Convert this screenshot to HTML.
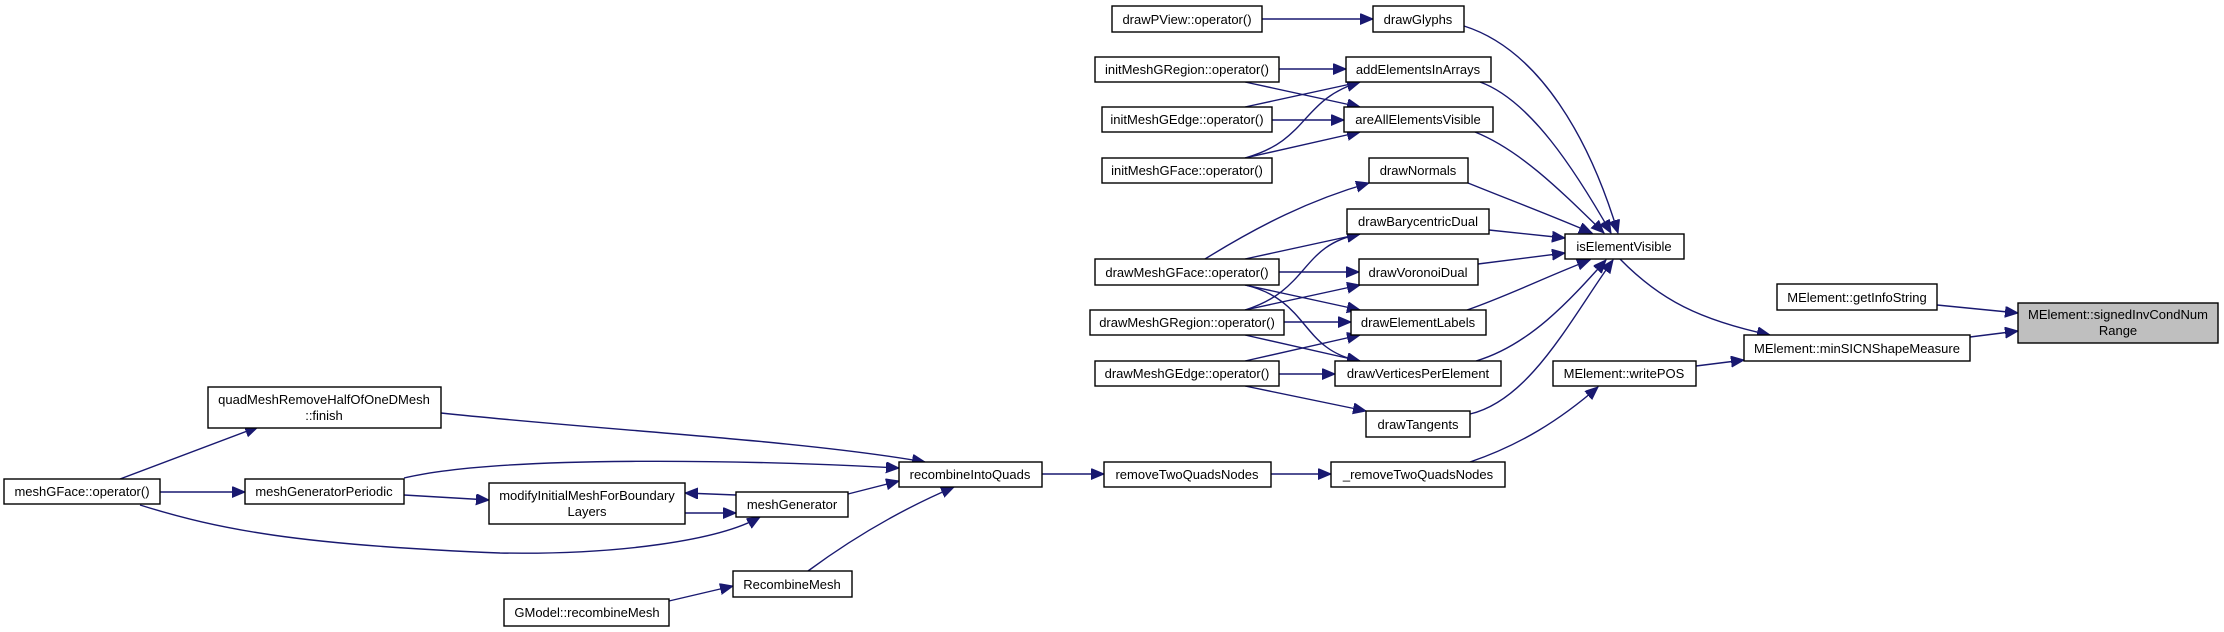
<!DOCTYPE html>
<html><head><meta charset="utf-8"><style>
html,body{margin:0;padding:0;background:#fff;}
svg{display:block;}
text{font-family:"Liberation Sans",Arial,sans-serif;font-size:13px;fill:#000;text-anchor:middle;}
.n{fill:#fff;stroke:#000;stroke-width:1.4;}
.e{fill:none;stroke:#191970;stroke-width:1.4;}
</style></head><body>
<svg width="2224" height="632" viewBox="0 0 2224 632" xmlns="http://www.w3.org/2000/svg">
<defs>
<marker id="a" markerUnits="userSpaceOnUse" markerWidth="14" markerHeight="12" refX="13" refY="5.5" orient="auto">
<polygon points="0,0 13,5.5 0,11" fill="#191970" stroke="#191970"/>
</marker>
</defs>
<g class="e" marker-end="url(#a)">
<path d="M1262,19 L1373,19"/>
<path d="M1464,26 C1540,50 1590,140 1618,233"/>
<path d="M1480,82 C1530,100 1575,170 1611,233"/>
<path d="M1475,132 C1520,150 1560,190 1604,233"/>
<path d="M1468,183 C1510,200 1550,215 1592,233"/>
<path d="M1489,230 L1565,238"/>
<path d="M1478,264 L1565,253"/>
<path d="M1467,310 C1510,295 1550,275 1590,260"/>
<path d="M1476,361 C1530,345 1570,300 1606,260"/>
<path d="M1470,414 C1530,400 1570,320 1613,260"/>
<path d="M1620,259 C1660,300 1700,320 1770,335"/>
<path d="M1937,305 L2018,313"/>
<path d="M1970,337 L2018,331"/>
<path d="M1696,366 L1744,360"/>
<path d="M1470,462 C1520,445 1560,420 1598,387"/>
<path d="M1271,474 L1331,474"/>
<path d="M1042,474 L1104,474"/>
<path d="M441,413 C600,430 800,440 925,462"/>
<path d="M404,478 C500,455 750,460 899,468"/>
<path d="M848,494 L899,481"/>
<path d="M808,571 C850,540 900,510 954,487"/>
<path d="M669,601 L733,586"/>
<path d="M120,479 L258,427"/>
<path d="M160,492 L245,492"/>
<path d="M140,505 C220,530 300,545 500,553 C620,555 720,540 760,517"/>
<path d="M404,495 L489,500"/>
<path d="M736,495 L685,493"/>
<path d="M685,513 L736,513"/>
<path d="M1279,69 L1346,69"/>
<path d="M1245,82 L1360,107"/>
<path d="M1245,107 L1360,82"/>
<path d="M1272,120 L1344,120"/>
<path d="M1245,158 C1310,140 1300,100 1360,82"/>
<path d="M1245,158 L1360,132"/>
<path d="M1205,259 C1260,225 1310,200 1369,183"/>
<path d="M1245,259 L1360,234"/>
<path d="M1279,272 L1359,272"/>
<path d="M1245,285 L1360,310"/>
<path d="M1245,285 C1310,300 1300,350 1360,361"/>
<path d="M1245,310 C1310,290 1300,245 1360,234"/>
<path d="M1245,310 L1360,285"/>
<path d="M1284,322 L1351,322"/>
<path d="M1245,335 L1360,361"/>
<path d="M1245,361 L1360,335"/>
<path d="M1279,374 L1335,374"/>
<path d="M1245,386 L1366,411"/>
</g>
<g>
<rect class="n" x="1112" y="6" width="150" height="26"/><text x="1187" y="24">drawPView::operator()</text>
<rect class="n" x="1373" y="6" width="91" height="26"/><text x="1418" y="24">drawGlyphs</text>
<rect class="n" x="1095" y="57" width="184" height="25"/><text x="1187" y="74">initMeshGRegion::operator()</text>
<rect class="n" x="1346" y="57" width="145" height="25"/><text x="1418" y="74">addElementsInArrays</text>
<rect class="n" x="1102" y="107" width="170" height="25"/><text x="1187" y="124">initMeshGEdge::operator()</text>
<rect class="n" x="1344" y="107" width="149" height="25"/><text x="1418" y="124">areAllElementsVisible</text>
<rect class="n" x="1102" y="158" width="170" height="25"/><text x="1187" y="175">initMeshGFace::operator()</text>
<rect class="n" x="1369" y="158" width="99" height="25"/><text x="1418" y="175">drawNormals</text>
<rect class="n" x="1347" y="209" width="142" height="25"/><text x="1418" y="226">drawBarycentricDual</text>
<rect class="n" x="1565" y="234" width="119" height="25"/><text x="1624" y="251">isElementVisible</text>
<rect class="n" x="1095" y="259" width="184" height="26"/><text x="1187" y="277">drawMeshGFace::operator()</text>
<rect class="n" x="1359" y="259" width="119" height="26"/><text x="1418" y="277">drawVoronoiDual</text>
<rect class="n" x="1090" y="310" width="194" height="25"/><text x="1187" y="327">drawMeshGRegion::operator()</text>
<rect class="n" x="1351" y="310" width="135" height="25"/><text x="1418" y="327">drawElementLabels</text>
<rect class="n" x="1095" y="361" width="184" height="25"/><text x="1187" y="378">drawMeshGEdge::operator()</text>
<rect class="n" x="1335" y="361" width="166" height="25"/><text x="1418" y="378">drawVerticesPerElement</text>
<rect class="n" x="1553" y="361" width="143" height="25"/><text x="1624" y="378">MElement::writePOS</text>
<rect class="n" x="1366" y="411" width="104" height="26"/><text x="1418" y="429">drawTangents</text>
<rect class="n" x="1104" y="462" width="167" height="25"/><text x="1187" y="479">removeTwoQuadsNodes</text>
<rect class="n" x="1331" y="462" width="174" height="25"/><text x="1418" y="479">_removeTwoQuadsNodes</text>
<rect class="n" x="1777" y="284" width="160" height="26"/><text x="1857" y="302">MElement::getInfoString</text>
<rect class="n" x="1744" y="335" width="226" height="26"/><text x="1857" y="353">MElement::minSICNShapeMeasure</text>
<rect x="2018" y="303" width="200" height="40" fill="#bfbfbf" stroke="#000" stroke-width="1.4"/><text x="2118" y="319">MElement::signedInvCondNum</text><text x="2118" y="335">Range</text>
<rect class="n" x="208" y="387" width="233" height="41"/><text x="324" y="404">quadMeshRemoveHalfOfOneDMesh</text><text x="324" y="420">::finish</text>
<rect class="n" x="899" y="462" width="143" height="25"/><text x="970" y="479">recombineIntoQuads</text>
<rect class="n" x="4" y="479" width="156" height="25"/><text x="82" y="496">meshGFace::operator()</text>
<rect class="n" x="245" y="479" width="159" height="25"/><text x="324" y="496">meshGeneratorPeriodic</text>
<rect class="n" x="489" y="483" width="196" height="41"/><text x="587" y="500">modifyInitialMeshForBoundary</text><text x="587" y="516">Layers</text>
<rect class="n" x="736" y="492" width="112" height="25"/><text x="792" y="509">meshGenerator</text>
<rect class="n" x="733" y="571" width="119" height="26"/><text x="792" y="589">RecombineMesh</text>
<rect class="n" x="504" y="599" width="165" height="27"/><text x="587" y="617">GModel::recombineMesh</text>
</g>
</svg>
</body></html>
